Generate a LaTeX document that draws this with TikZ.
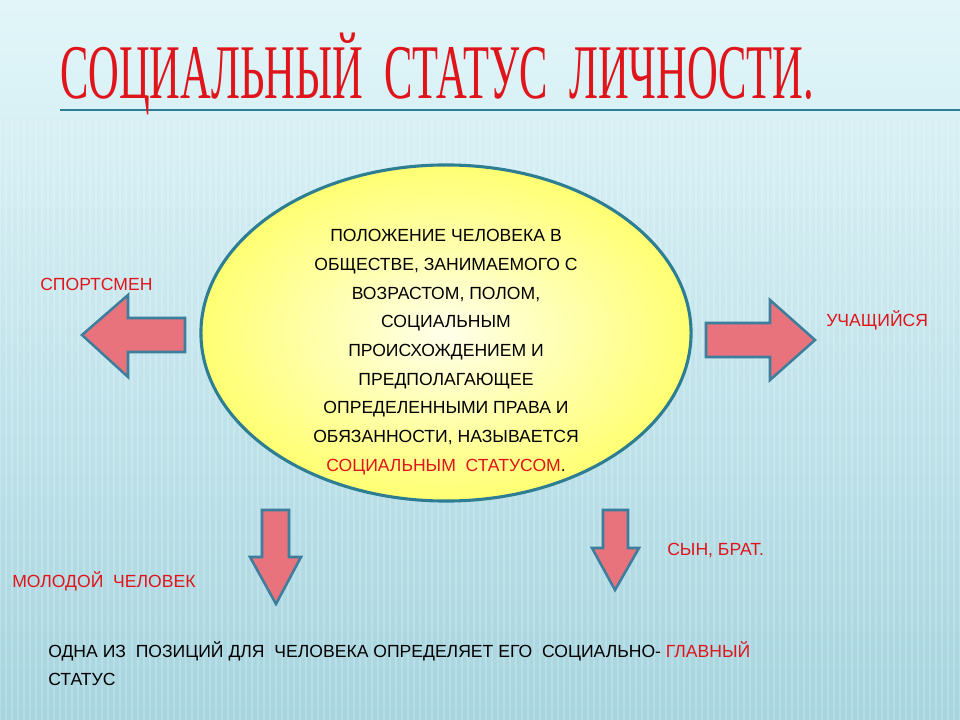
\documentclass[tikz,border=0pt]{standalone}
\usepackage{fontspec}
\setmainfont{Liberation Sans}
\newfontfamily\titlefont{Liberation Serif}
\usetikzlibrary{shapes.geometric}
\definecolor{bgtop}{HTML}{E2F6F9}
\definecolor{bgbot}{HTML}{A6D4DF}
\definecolor{txtred}{HTML}{E0141B}
\definecolor{arrfill}{HTML}{E8737C}
\definecolor{arrline}{HTML}{3C7E9C}
\definecolor{elline}{HTML}{2D7E93}
\begin{document}
\begin{tikzpicture}[x=0.025cm,y=-0.025cm,
  lbl/.style={font=\fontsize{12.5}{19}\selectfont, text=txtred, inner sep=0},
  blk/.style={font=\fontsize{12.5}{20}\selectfont, text=black, inner sep=0, align=left},
  arr/.style={draw=arrline, line width=1.8pt, fill=arrfill, line join=miter}]
\fill[top color=bgtop, bottom color=bgbot] (0,0) rectangle (960,720);
\useasboundingbox (0,0) rectangle (960,720);
\foreach \i in {0,6,...,960} \draw[white, opacity=0.18, line width=1pt] (\i,120) -- (\i,720);
\coordinate (l1) at (60,110); \coordinate (l2) at (960,110);
\draw[elline, line width=1pt] (l1) -- (l2);
\node[anchor=base west, inner sep=0, text=txtred, font=\titlefont\fontsize{55}{55}\selectfont, xscale=0.55] (title) at (60,99) {СОЦИАЛЬНЫЙ\ \ СТАТУС\ \ ЛИЧНОСТИ.};
\node[ellipse, draw=elline, line width=2.2pt, inner color=yellow!8, outer color=yellow!55!white, minimum width=12.25cm, minimum height=8.4cm] (el) at (446,333) {};
\node[align=center, font=\fontsize{12.5}{20.4}\selectfont] (eltext) at (446,352) {ПОЛОЖЕНИЕ ЧЕЛОВЕКА В\\ ОБЩЕСТВЕ, ЗАНИМАЕМОГО С\\ ВОЗРАСТОМ, ПОЛОМ,\\ СОЦИАЛЬНЫМ\\ ПРОИСХОЖДЕНИЕМ И\\ ПРЕДПОЛАГАЮЩЕЕ\\ ОПРЕДЕЛЕННЫМИ ПРАВА И\\ ОБЯЗАННОСТИ, НАЗЫВАЕТСЯ\\ \textcolor{txtred}{СОЦИАЛЬНЫМ\ \ СТАТУСОМ}.};
\draw[arr] (185,318) -- (128,318) -- (128,295) -- (82,335) -- (128,377) -- (128,352) -- (185,352) -- cycle;
\draw[arr] (706,323) -- (770,323) -- (770,300) -- (815,340) -- (770,380) -- (770,357) -- (706,357) -- cycle;
\draw[arr] (262,510) -- (289,510) -- (289,557) -- (301,557) -- (276,604) -- (250,557) -- (262,557) -- cycle;
\draw[arr] (603,510) -- (628,510) -- (628,548) -- (639,548) -- (615,590) -- (592,548) -- (603,548) -- cycle;
\node[lbl, anchor=west] (sp) at (40,284) {СПОРТСМЕН};
\node[lbl, anchor=west] (uch) at (826,320) {УЧАЩИЙСЯ};
\node[lbl, anchor=west] (mol) at (12,581) {МОЛОДОЙ\ \ ЧЕЛОВЕК};
\node[lbl, anchor=west] (syn) at (667,550) {СЫН, БРАТ.};
\node[blk, anchor=north west] (bot) at (48,641) {ОДНА ИЗ\ \ ПОЗИЦИЙ ДЛЯ\ \ ЧЕЛОВЕКА ОПРЕДЕЛЯЕТ ЕГО\ \ СОЦИАЛЬНО- \textcolor{txtred}{ГЛАВНЫЙ}\\ СТАТУС};
\end{tikzpicture}
\end{document}
